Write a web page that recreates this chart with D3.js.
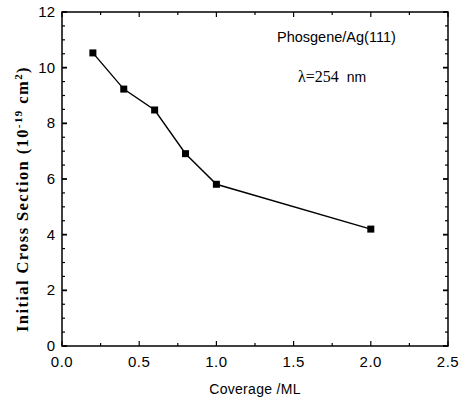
<!DOCTYPE html>
<html>
<head>
<meta charset="utf-8">
<script src="https://cdn.jsdelivr.net/npm/d3@7"></script>
<style>
  body { margin: 0; background: #fff; }
  text { fill: #000; }
</style>
</head>
<body>
<div id="container"></div>
<script>
// data
const coverage = [0.2, 0.4, 0.6, 0.8, 1.0, 2.0];
const crossSection = [10.53, 9.23, 8.48, 6.91, 5.81, 4.2];
const xTicks = [0.0, 0.5, 1.0, 1.5, 2.0, 2.5];
const yTicks = [0, 2, 4, 6, 8, 10, 12];

const w = 462;
const h = 401;
const padL = 62, padR = 448, padT = 12, padB = 346;

const svg = d3.select("#container")
  .append("svg")
  .attr("width", w)
  .attr("height", h);

const xScale = d3.scaleLinear().domain([0, 2.5]).range([padL, padR]);
const yScale = d3.scaleLinear().domain([0, 12]).range([padB, padT]);

const xMinor = d3.range(0, 2.51, 0.25);
const yMinor = d3.range(0, 12.01, 0.5);

// frame
svg.append("rect")
  .attr("x", padL).attr("y", padT)
  .attr("width", padR - padL).attr("height", padB - padT)
  .attr("fill", "none").attr("stroke", "#000").attr("stroke-width", 1.5);

// inward ticks on all sides
const tickG = svg.append("g").attr("stroke", "#000");
xMinor.forEach(v => {
  const major = Math.abs(v * 2 - Math.round(v * 2)) < 1e-6;
  const len = major ? 5 : 3;
  const x = xScale(v);
  tickG.append("line").attr("x1", x).attr("x2", x).attr("y1", padB).attr("y2", padB - len).attr("stroke-width", 1.2);
  tickG.append("line").attr("x1", x).attr("x2", x).attr("y1", padT).attr("y2", padT + len).attr("stroke-width", 1.2);
});
yMinor.forEach(v => {
  const major = Math.abs(v / 2 - Math.round(v / 2)) < 1e-6;
  const len = major ? 5 : 3;
  const y = yScale(v);
  tickG.append("line").attr("x1", padL).attr("x2", padL + len).attr("y1", y).attr("y2", y).attr("stroke-width", major ? 1.8 : 1.2);
  tickG.append("line").attr("x1", padR).attr("x2", padR - len).attr("y1", y).attr("y2", y).attr("stroke-width", major ? 1.8 : 1.2);
});

// tick labels
svg.append("g").selectAll("text")
  .data(xTicks)
  .enter()
  .append("text")
  .attr("x", d => xScale(d))
  .attr("y", padB + 21)
  .attr("text-anchor", "middle")
  .attr("font-family", "Liberation Sans, Arial, sans-serif")
  .attr("font-size", 15)
  .attr("letter-spacing", 0.5)
  .text(d => d.toFixed(1));

svg.append("g").selectAll("text")
  .data(yTicks)
  .enter()
  .append("text")
  .attr("x", padL - 7)
  .attr("y", d => yScale(d) + 5)
  .attr("text-anchor", "end")
  .attr("font-family", "Liberation Sans, Arial, sans-serif")
  .attr("font-size", 15)
  .text(d => d);

// axis titles
svg.append("text")
  .attr("x", 255)
  .attr("y", padB + 48)
  .attr("text-anchor", "middle")
  .attr("font-family", "Liberation Sans, Arial, sans-serif")
  .attr("font-size", 14)
  .attr("letter-spacing", 0.3)
  .text("Coverage /ML");

const yl = svg.append("text")
  .attr("transform", "translate(28,199) rotate(-90)")
  .attr("text-anchor", "middle")
  .attr("font-family", "Liberation Serif, Times New Roman, serif")
  .attr("font-weight", "bold")
  .attr("font-size", 16.5)
  .attr("letter-spacing", 1.4);
yl.append("tspan").text("Initial  Cross  Section  (10");
yl.append("tspan").attr("dy", -6).attr("font-size", 11).text("-19");
yl.append("tspan").attr("dy", 6).text("  cm");
yl.append("tspan").attr("dy", -6).attr("font-size", 11).text("2");
yl.append("tspan").attr("dy", 6).text(")");

// annotations
svg.append("text")
  .attr("x", 277).attr("y", 42)
  .attr("font-family", "Liberation Sans, Arial, sans-serif")
  .attr("font-size", 14.5)
  .text("Phosgene/Ag(111)");

const lam = svg.append("text")
  .attr("x", 298).attr("y", 82)
  .attr("font-family", "Liberation Serif, Times New Roman, serif")
  .attr("font-size", 16);
lam.append("tspan").text("λ=254 ");
lam.append("tspan").attr("font-family", "Liberation Sans, Arial, sans-serif").attr("font-size", 14).attr("dx", 4).text("nm");

// data line and markers
const pts = coverage.map((c, i) => [c, crossSection[i]]);
svg.append("path")
  .datum(pts)
  .attr("fill", "none")
  .attr("stroke", "#000")
  .attr("stroke-width", 1.4)
  .attr("d", d3.line().x(d => xScale(d[0])).y(d => yScale(d[1])));

svg.selectAll("rect.pt")
  .data(pts)
  .enter()
  .append("rect")
  .attr("class", "pt")
  .attr("x", d => xScale(d[0]) - 3.5)
  .attr("y", d => yScale(d[1]) - 3.5)
  .attr("width", 7)
  .attr("height", 7)
  .attr("fill", "#000");
</script>
</body>
</html>
